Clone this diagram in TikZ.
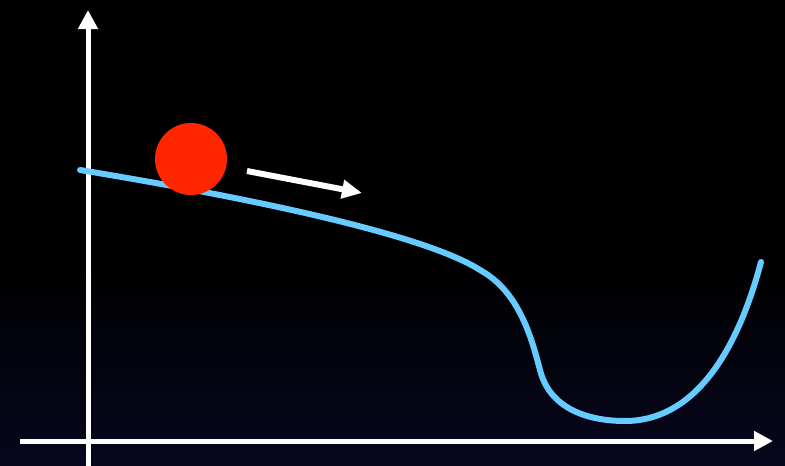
\documentclass[tikz,border=0pt]{standalone}
\usetikzlibrary{arrows.meta}
\definecolor{bgnavy}{RGB}{7,7,30}
\definecolor{curveblue}{RGB}{102,204,255}
\definecolor{ballred}{RGB}{255,38,0}
\tikzset{
  axisline/.style={white, line width=5pt, -{Triangle[length=19pt,width=19pt]}},
  motionarrow/.style={white, line width=6pt, -{Triangle[length=20pt,width=18pt]}},
  landscape/.style={curveblue, line width=6pt, line cap=round, line join=round},
}
\begin{document}
\begin{tikzpicture}[x=1pt,y=-1pt]
\useasboundingbox (0,0) rectangle (785,466);
\fill[black] (0,0) rectangle (785,260);
\shade[top color=black, bottom color=bgnavy] (0,259) rectangle (785,466);
% axes
\coordinate (ybot) at (88,466);
\coordinate (ytop) at (88,10);
\coordinate (xleft) at (20,441);
\coordinate (xright) at (773,441);
\draw[axisline] (ybot) -- (ytop);
\draw[axisline] (xleft) -- (xright);
% landscape curve
\coordinate (c0) at (80,170);
\coordinate (c1) at (480,270);
\coordinate (c2) at (540,370);
\coordinate (c3) at (625,421);
\coordinate (c4) at (761,262);
\draw[landscape] (c0) .. controls (280,203) and (430,238) .. (c1)
  .. controls (520,292) and (532,340) .. (c2)
  .. controls (550,410) and (590,421) .. (c3)
  .. controls (690,421) and (735,360) .. (c4);
% ball
\node[circle, fill=ballred, minimum size=72pt, inner sep=0pt] (ball) at (191,159) {};
% motion arrow
\coordinate (mstart) at (247,171);
\coordinate (mend) at (362,193);
\draw[motionarrow] (mstart) -- (mend);
\end{tikzpicture}
\end{document}
